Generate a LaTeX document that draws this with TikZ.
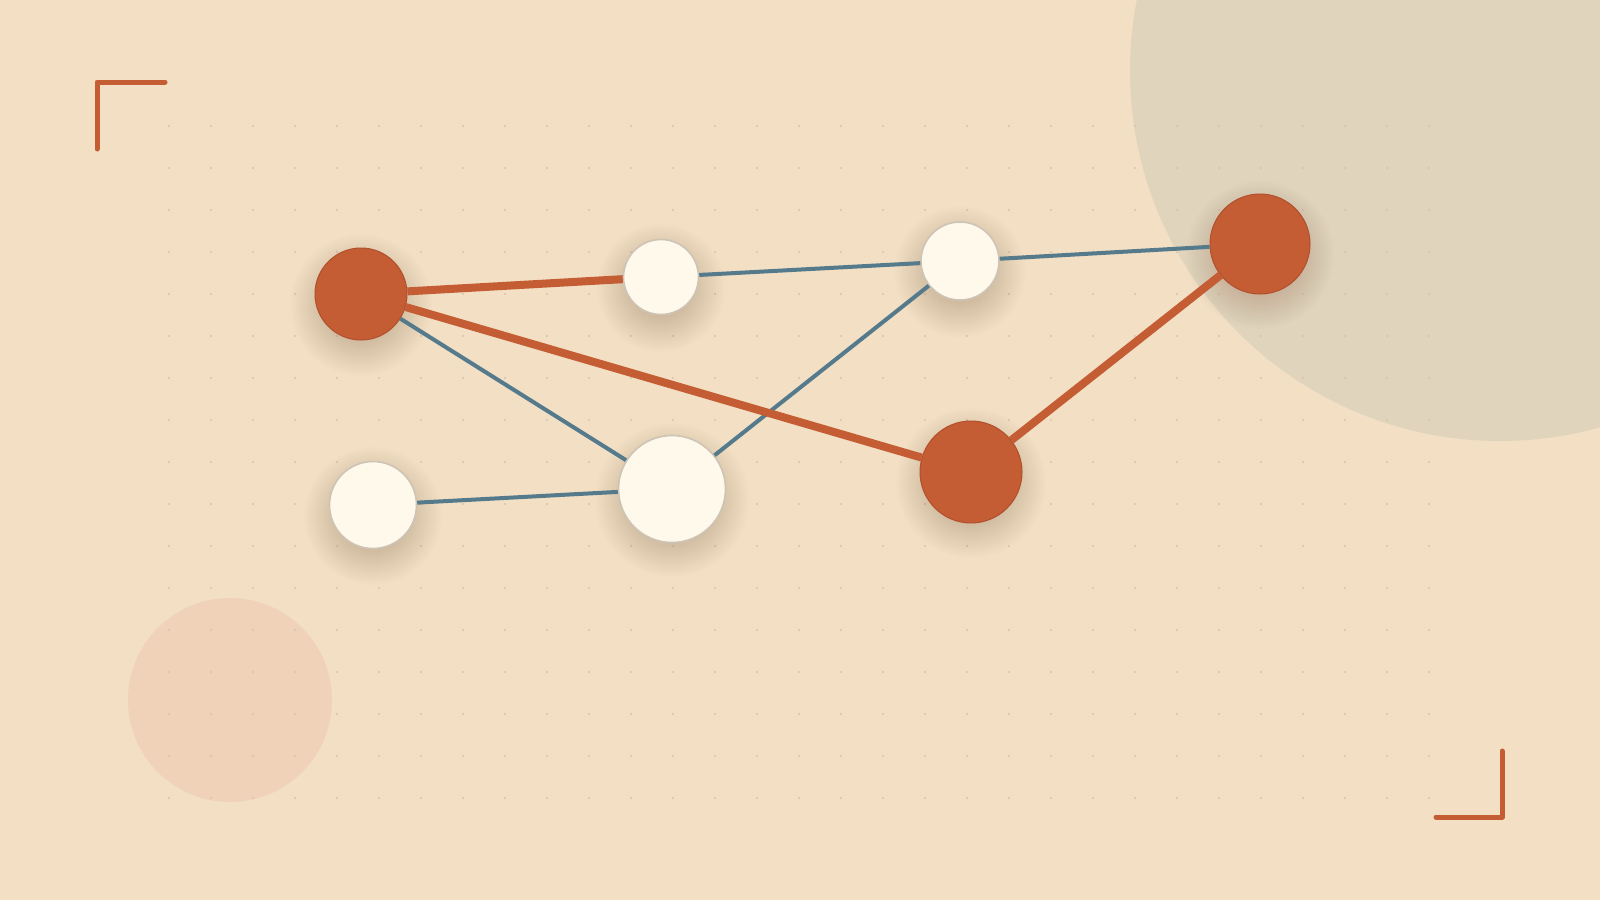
\documentclass[tikz,border=0pt]{standalone}
\definecolor{bg}{RGB}{242,223,196}
\definecolor{bigc}{RGB}{225,212,189}
\definecolor{smallc}{RGB}{239,210,184}
\definecolor{rust}{RGB}{196,92,52}
\definecolor{rustdark}{RGB}{176,80,45}
\definecolor{slate}{RGB}{84,122,140}
\definecolor{cream}{RGB}{255,249,236}
\definecolor{creamedge}{RGB}{206,196,182}
\definecolor{dotc}{RGB}{214,196,172}
\definecolor{shadowc}{RGB}{150,115,70}
\newcommand{\softshadow}[3]{%
  \foreach \k in {0,...,17}{
    \fill[shadowc, fill opacity=0.014] (#1,{#2+11}) circle ({#3*0.8+\k*2});
  }%
}
\tikzset{
  hubnode/.style={circle, inner sep=0pt, fill=rust, draw=rustdark, line width=1pt},
  leafnode/.style={circle, inner sep=0pt, fill=cream, draw=creamedge, line width=1.6pt},
  hotedge/.style={draw=rust, line width=8pt},
  coldedge/.style={draw=slate, line width=4pt},
  cornermark/.style={draw=rust, line width=5pt, line cap=round, line join=round}
}
\begin{document}
\begin{tikzpicture}[x=1pt,y=-1pt]
\fill[bg] (0,0) rectangle (1600,900);
\useasboundingbox (0,0) rectangle (1600,900);
\begin{scope}
\clip (0,0) rectangle (1600,900);
\fill[bigc] (1500,71) circle (370);
\end{scope}
\fill[smallc] (230,700) circle (102);
% dot grid
\foreach \i in {0,...,30}{
  \foreach \j in {0,...,16}{
    \fill[dotc] ({169+42*\i},{126+42*\j}) circle (1.1);
  }
}
% corner marks
\coordinate (tl1) at (97,149);
\coordinate (tl2) at (97,82);
\coordinate (tl3) at (165,82);
\draw[cornermark] (tl1) -- (tl2) -- (tl3);
\coordinate (br1) at (1502,751);
\coordinate (br2) at (1502,817);
\coordinate (br3) at (1436,817);
\draw[cornermark] (br1) -- (br2) -- (br3);
% shadows
\softshadow{361}{294}{46}
\softshadow{661}{277}{37.5}
\softshadow{960}{261}{39}
\softshadow{1260}{244}{50}
\softshadow{373}{505}{43.5}
\softshadow{672}{489}{53.5}
\softshadow{971}{472}{51}
% nodes
\node[hubnode, minimum size=92pt] (A) at (361,294) {};
\node[leafnode, minimum size=75pt] (B) at (661,277) {};
\node[leafnode, minimum size=78pt] (C) at (960,261) {};
\node[hubnode, minimum size=100pt] (D) at (1260,244) {};
\node[leafnode, minimum size=87pt] (E) at (373,505) {};
\node[leafnode, minimum size=107pt] (F) at (672,489) {};
\node[hubnode, minimum size=102pt] (G) at (971,472) {};
% edges
\draw[coldedge] (A) -- (F);
\draw[coldedge] (B) -- (C);
\draw[coldedge] (C) -- (D);
\draw[coldedge] (F) -- (C);
\draw[coldedge] (E) -- (F);
\draw[hotedge] (A) -- (B);
\draw[hotedge] (A) -- (G);
\draw[hotedge] (G) -- (D);
\end{tikzpicture}
\end{document}
